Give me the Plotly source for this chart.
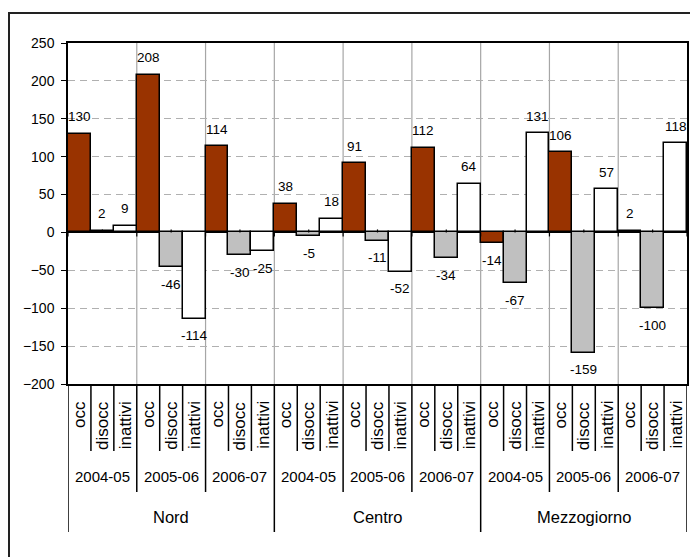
import plotly.graph_objects as go

regions = ["Nord", "Centro", "Mezzogiorno"]
years = ["2004-05", "2005-06", "2006-07"]
series = ["occ", "disocc", "inattivi"]
occ = [130, 208, 114, 38, 91, 112, -14, 106, 2]
disocc = [2, -46, -30, -5, -11, -34, -67, -159, -100]
inattivi = [9, -114, -25, 18, -52, 64, 131, 57, 118]
y_ticks = [-200, -150, -100, -50, 0, 50, 100, 150, 200, 250]

values = [occ, disocc, inattivi]
colors = ["#993300", "#C0C0C0", "#FFFFFF"]
FONT = "Liberation Sans, Arial, sans-serif"

OFF = 8  # page body margin
W, H = 698 - OFF, 557 - OFF
L, R, T, B = 68 - OFF, 11, 43 - OFF, 173
ph = H - T - B  # plot height in px
pw = W - L - R

n_groups = len(regions) * len(years)
n_cat = n_groups * len(series)

fig = go.Figure()
annotations = []
shapes = []

for s, (name, vals, col) in enumerate(zip(series, values, colors)):
    xs = [3 * g + s for g in range(n_groups)]
    fig.add_trace(go.Bar(
        x=xs, y=vals, name=name, width=1.0,
        marker=dict(color=col, line=dict(color="black", width=1.5)),
        showlegend=False, hoverinfo="skip",
    ))
    for x, v in zip(xs, vals):
        annotations.append(dict(
            x=x, y=v, xref="x", yref="y", text=str(v), showarrow=False,
            yshift=17 if v >= 0 else -17, yanchor="middle",
            font=dict(family=FONT, size=13.5, color="black"),
        ))

def py(p):
    """page pixel y -> paper y"""
    return (H - B - (p - OFF)) / ph

def px(p):
    """page pixel x -> paper x"""
    return ((p - OFF) - L) / pw

# vertical group lines inside plot
for g in range(1, n_groups):
    shapes.append(dict(type="line", xref="x", yref="paper",
                       x0=3 * g - 0.5, x1=3 * g - 0.5, y0=0, y1=1,
                       line=dict(color="#A6A6A6", width=1.2), layer="below"))

# small ticks on zero line
for g in range(n_groups):
    shapes.append(dict(type="line", xref="x", yref="y", ysizemode="pixel",
                       yanchor=0, x0=3 * g + 1, x1=3 * g + 1, y0=0, y1=3,
                       line=dict(color="black", width=1.2)))
for g in range(n_groups + 1):
    shapes.append(dict(type="line", xref="x", yref="y", ysizemode="pixel",
                       yanchor=0, x0=3 * g - 0.5, x1=3 * g - 0.5, y0=0, y1=-4,
                       line=dict(color="black", width=1.2)))

# category table lines below plot
for k in range(n_cat + 1):
    if k % 9 == 0:
        yb = py(532)
    elif k % 3 == 0:
        yb = py(492)
    else:
        yb = py(451)
    shapes.append(dict(type="line", xref="x", yref="paper",
                       x0=k - 0.5, x1=k - 0.5, y0=0, y1=yb,
                       line=dict(color="black", width=1.5)))

# rotated series labels
for k in range(n_cat):
    annotations.append(dict(
        x=k, y=py(399), xref="x", yref="paper", text=series[k % 3],
        showarrow=False, textangle=-90, yanchor="top", xanchor="center",
        font=dict(family=FONT, size=17, color="black"),
    ))
# year labels
for g in range(n_groups):
    annotations.append(dict(
        x=3 * g + 1, y=py(476), xref="x", yref="paper", text=years[g % 3],
        showarrow=False, yanchor="middle",
        font=dict(family=FONT, size=15, color="black"),
    ))
# region labels
for r, reg in enumerate(regions):
    annotations.append(dict(
        x=9 * r + 4, y=py(517), xref="x", yref="paper", text=reg,
        showarrow=False, yanchor="middle",
        font=dict(family=FONT, size=16.5, color="black"),
    ))

# outer chart border (extends beyond window on right/bottom)
shapes.append(dict(type="rect", xref="paper", yref="paper",
                   x0=px(9), x1=px(720), y0=py(580), y1=py(13),
                   line=dict(color="#222222", width=2)))

fig.update_layout(
    width=W, height=H,
    margin=dict(l=L, r=R, t=T, b=B, autoexpand=False),
    paper_bgcolor="white", plot_bgcolor="white",
    bargap=0, barmode="group",
    font=dict(family=FONT, size=14, color="black"),
    xaxis=dict(range=[-0.5, n_cat - 0.5], showticklabels=False, ticks="",
               showgrid=False, zeroline=False, showline=True, mirror=True,
               linecolor="black", linewidth=1.5, fixedrange=True),
    yaxis=dict(range=[-200, 250], tickvals=y_ticks, ticks="outside",
               ticklen=5, tickcolor="black", tickwidth=1.2,
               showgrid=True, gridcolor="#B0B0B0", griddash="7px,5px",
               gridwidth=1.2,
               zeroline=True, zerolinecolor="black", zerolinewidth=1.5,
               showline=True, mirror=True, linecolor="black", linewidth=1.5,
               tickfont=dict(family=FONT, size=14, color="black"),
               ticklabelstandoff=4, fixedrange=True),
    annotations=annotations,
    shapes=shapes,
)

fig.write_html("out.html")
